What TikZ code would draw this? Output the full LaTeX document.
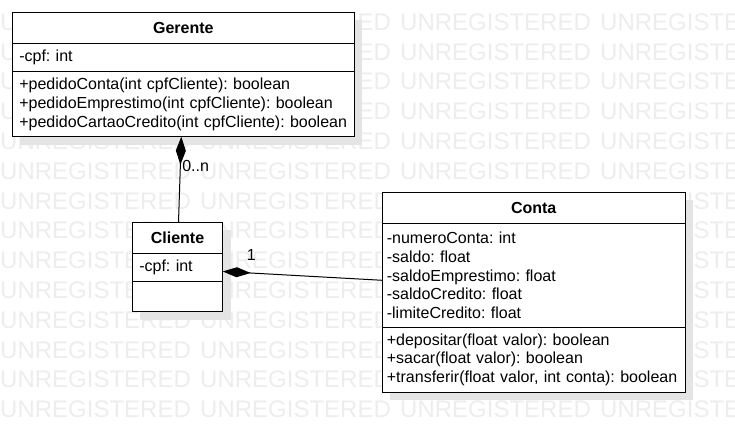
\documentclass[tikz,border=0pt]{standalone}
\usepackage{fontspec}
\setmainfont{Liberation Sans}
\usetikzlibrary{positioning,arrows.meta,backgrounds}

\definecolor{wmgray}{HTML}{EDEDED}
\definecolor{shadowgray}{HTML}{E4E4E4}

\tikzset{%
  >=latex,
  umlbox/.style={draw, fill=white, line width=1pt, outer sep=0pt, inner xsep=7pt, inner ysep=0pt,
    font=\fontsize{16}{18.8}\selectfont, anchor=north},
  classname/.style={umlbox, font=\fontsize{16}{18.8}\selectfont\bfseries, minimum width=#1, minimum height=31pt},
  members/.style={umlbox, align=left, text width=#1},
  comp/.style={line width=1pt, -{Diamond[length=28pt,width=10pt]}},
  wmark/.style={text=wmgray, font=\fontsize{24}{24}\selectfont, inner sep=0pt, anchor=west}
}
\frenchspacing

\begin{document}
\begin{tikzpicture}[x=1pt,y=-1pt]
     \useasboundingbox (0,0) rectangle (735,442);
     \clip (0,0) rectangle (735,442);

     % Gerente
     \node[classname=342pt] (gerente) at (183.3,12.3) {Gerente};
     \node[members=328pt, minimum height=28.4pt, below=0pt of gerente] (gerattr) {-cpf: int};
     \node[members=328pt, minimum height=65pt, below=0pt of gerattr] (gerops)
       {+pedidoConta(int cpfCliente): boolean\\
        +pedidoEmprestimo(int cpfCliente): boolean\\
        +pedidoCartaoCredito(int cpfCliente): boolean};

     % Cliente
     \node[classname=90.4pt] (cliente) at (177.5,222.3) {Cliente};
     \node[members=76.4pt, minimum height=28.3pt, below=0pt of cliente] (cliattr) {-cpf: int};
     \node[members=76.4pt, minimum height=30pt, below=0pt of cliattr] (cliops) {};

     % Conta
     \node[classname=302.7pt] (conta) at (533.7,192.3) {Conta};
     \node[members=293.7pt, inner xsep=4.5pt, minimum height=104pt, below=0pt of conta] (contaattr)
       {-numeroConta: int\\
        -saldo: float\\
        -saldoEmprestimo: float\\
        -saldoCredito: float\\
        -limiteCredito: float};
     \node[members=293.7pt, inner xsep=4.5pt, minimum height=65pt, below=0pt of contaattr] (contaops)
       {+depositar(float valor): boolean\\
        +sacar(float valor): boolean\\
        +transferir(float valor, int conta): boolean};

     \draw[comp] ([xshift=1pt]cliente.north) -- node[pos=0.66, right, inner sep=1.5pt, font=\fontsize{16}{18.8}\selectfont] {0..n} ([xshift=-2pt]gerops.south);
     \draw[comp] ([yshift=-5pt]contaattr.west) -- node[pos=0.82, above=10pt, inner sep=2pt, font=\fontsize{16}{18.8}\selectfont] {1} ([yshift=-4pt]cliattr.east);

     \begin{scope}[on background layer]
       \foreach \r in {0,...,13}
         \foreach \c in {0,...,3}
           \node[wmark] at (200*\c, 22+29.8*\r) {UNREGISTERED};
       \foreach \a/\b in {gerente/gerops, cliente/cliops, conta/contaops}
         \fill[shadowgray] ([shift={(8,8)}]\a.north west) rectangle ([shift={(8,8)}]\b.south east);
     \end{scope}
\end{tikzpicture}
\end{document}
